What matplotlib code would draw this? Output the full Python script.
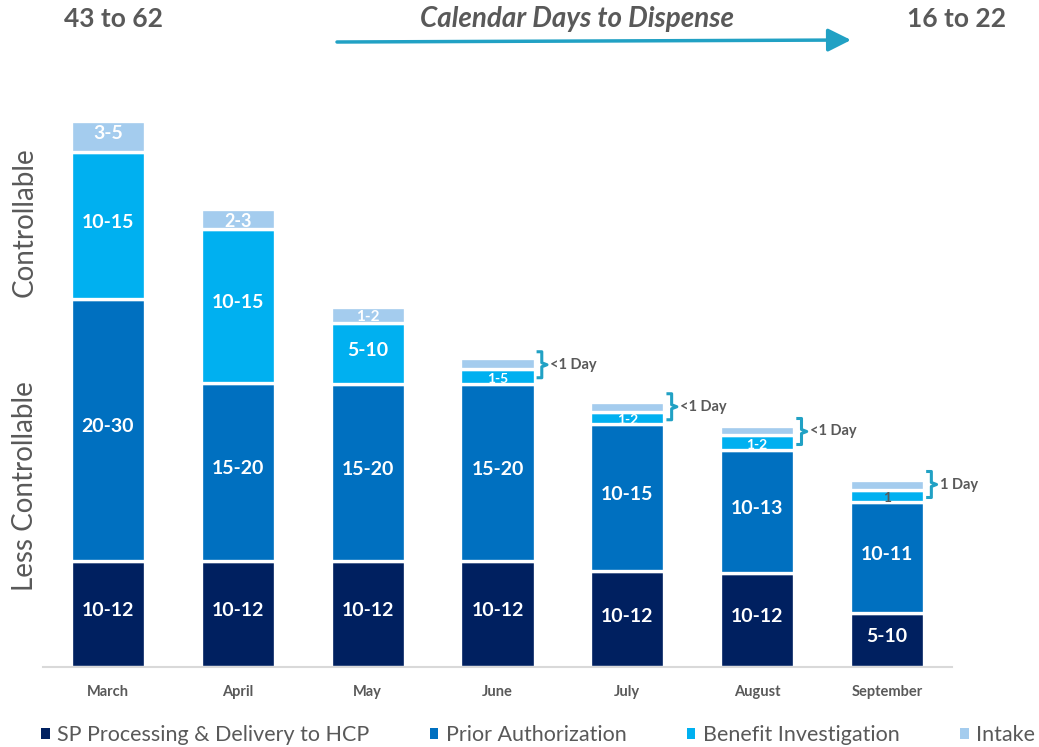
import matplotlib
matplotlib.use('Agg')
import matplotlib.pyplot as plt
from matplotlib.patches import Patch

plt.rcParams['font.family'] = ['Lato', 'DejaVu Sans']

months = ['March', 'April', 'May', 'June', 'July', 'August', 'September']

# relative segment heights (no y axis shown)
sp_vals = [106, 106, 106, 106, 96, 94, 54]
pa_vals = [262, 178, 177.5, 177, 147, 123.5, 111.5]
bi_vals = [147, 154, 61, 15.5, 12.5, 14.5, 12]
in_vals = [31.5, 20.5, 16, 11, 10, 9.5, 10]

sp_labels = ['10-12', '10-12', '10-12', '10-12', '10-12', '10-12', '5-10']
pa_labels = ['20-30', '15-20', '15-20', '15-20', '10-15', '10-13', '10-11']
bi_labels = ['10-15', '10-15', '5-10', '1-5', '1-2', '1-2', '1']
in_labels = ['3-5', '2-3', '1-2', '', '', '', '']
brace_labels = ['', '', '', '<1 Day', '<1 Day', '<1 Day', '1 Day']

series = ['SP Processing & Delivery to HCP', 'Prior Authorization',
          'Benefit Investigation', 'Intake']
colors = ['#002060', '#0070C0', '#00B0F0', '#A4CCEE']
gray = '#595959'
teal = '#21A1C4'

fig = plt.figure(figsize=(10.39, 7.47), dpi=100)
ax = fig.add_axes([43/1039, 80/747, 909/1039, 567/747])

x = list(range(len(months)))
width = 0.572
bottom = [0] * len(months)
all_vals = [sp_vals, pa_vals, bi_vals, in_vals]
all_labels = [sp_labels, pa_labels, bi_labels, in_labels]

for vals, labs, col in zip(all_vals, all_labels, colors):
    bars = ax.bar(x, vals, width=width, bottom=bottom, color=col,
                  edgecolor='white', linewidth=2.4, zorder=2)
    for bar, b, v, lab in zip(bars, bottom, vals, labs):
        if not lab:
            continue
        cx = bar.get_x() + bar.get_width() / 2
        if v > 25:
            ax.text(cx, b + v / 2 + 3, lab, ha='center', va='center',
                    color='white', fontsize=14, fontweight='bold', zorder=3)
        elif lab == '1':
            ax.text(cx, b + v / 2 - 3, lab, ha='center', va='center',
                    color=gray, fontsize=10, fontweight='bold', zorder=3)
        else:
            fs = 13 if v > 18 else (11 if v > 15.8 else 10)
            t = ax.text(cx, b + v / 2 - 2.5, lab, ha='center', va='center',
                        color='white', fontsize=fs, fontweight='bold', zorder=3)
            t.set_clip_path(bar)
    bottom = [b + v for b, v in zip(bottom, vals)]

# braces for the small top segments
for i, lab in enumerate(brace_labels):
    if not lab:
        continue
    r = i + width / 2
    y0 = sp_vals[i] + pa_vals[i]
    y1 = bottom[i]
    yc = (y0 + y1) / 2 + 6
    h = 13
    xs = [r + 0.015, r + 0.055, r + 0.055, r + 0.095, r + 0.055, r + 0.055, r + 0.015]
    ys = [yc + h, yc + h, yc + 2, yc, yc - 2, yc - h, yc - h]
    ax.plot(xs, ys, color=teal, lw=2.2, solid_joinstyle='round',
            solid_capstyle='butt', clip_on=False, zorder=3)
    ax.text(r + 0.12, yc, lab, ha='left', va='center', color=gray,
            fontsize=10.5, fontweight='bold')

ax.set_xlim(-0.5, 6.5)
ax.set_ylim(0, 567)
ax.set_xticks(x)
ax.set_xticklabels(months, fontsize=10.5, fontweight='bold', color=gray)
ax.tick_params(axis='x', length=0, pad=13)
ax.set_yticks([])
for s in ['top', 'right', 'left']:
    ax.spines[s].set_visible(False)
ax.spines['bottom'].set_color('#D9D9D9')
ax.spines['bottom'].set_linewidth(1.5)
ax.spines['bottom'].set_zorder(4)

# side labels
fig.text(25/1039, 1 - 222/747, 'Controllable', rotation=90, ha='center',
         va='center', color=gray, fontsize=20)
fig.text(25/1039, 1 - 486/747, 'Less Controllable', rotation=90, ha='center',
         va='center', color=gray, fontsize=20)

# header
fig.text(114/1039, 1 - 19/747, '43 to 62', ha='center', va='center',
         color=gray, fontsize=19, fontweight='bold')
fig.text(957/1039, 1 - 19/747, '16 to 22', ha='center', va='center',
         color=gray, fontsize=19, fontweight='bold')
fig.text(577/1039, 1 - 19/747, 'Calendar Days to Dispense', ha='center',
         va='center', color=gray, fontsize=20, fontweight='bold', style='italic')
ax.annotate('', xy=(851/1039, 1 - 40/747), xytext=(337/1039, 1 - 42/747),
            xycoords='figure fraction', textcoords='figure fraction',
            arrowprops=dict(arrowstyle='-|>,head_length=0.7,head_width=0.35',
                            color=teal, lw=2.5, mutation_scale=20,
                            shrinkA=0, shrinkB=0))

handles = [Patch(facecolor=c, edgecolor='none') for c in colors]
fig.legend(handles, series, loc='center left', bbox_to_anchor=(41/1039, 1 - 735/747),
           ncol=4, frameon=False, fontsize=15.5, labelcolor=gray,
           handlelength=0.4, handleheight=0.4, handletextpad=0.35,
           columnspacing=2.8, borderpad=0, borderaxespad=0)

fig.savefig('out.png', dpi=100)
